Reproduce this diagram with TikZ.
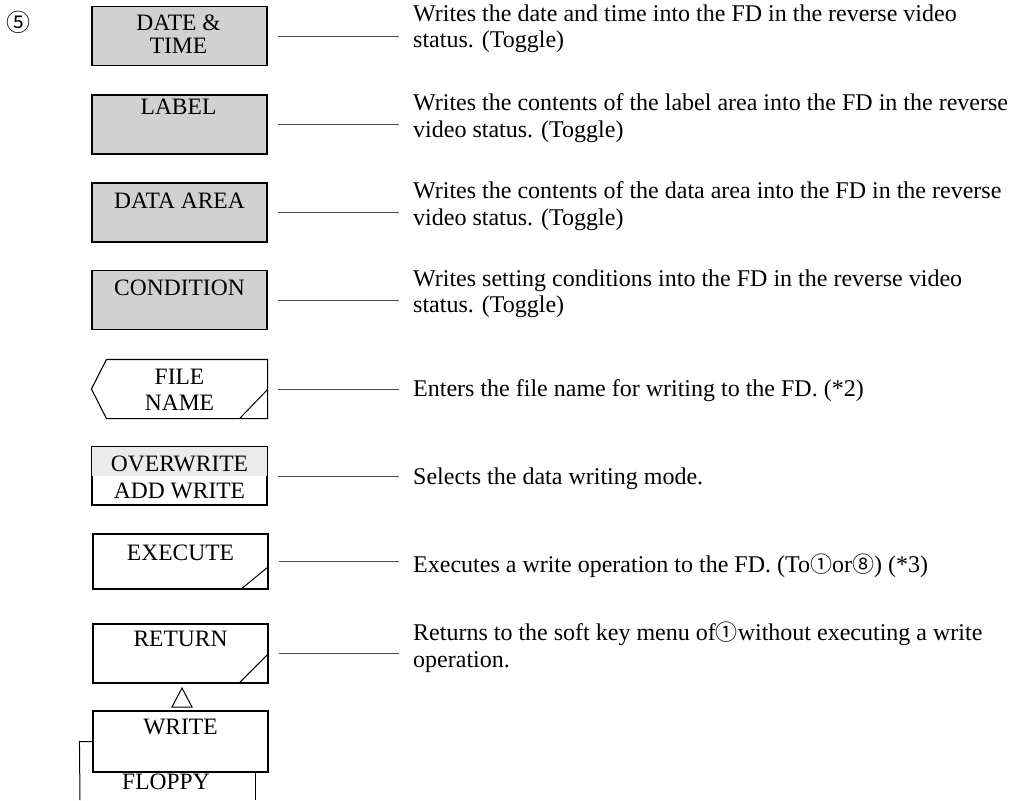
\documentclass[tikz,border=0pt]{standalone}
\usepackage{fontspec}
\setmainfont{Liberation Serif}
\newfontfamily\symf{Noto Sans CJK JP}
\newcommand{\cnum}[1]{\smash{\symf\fontsize{22}{22}\selectfont #1}}
\begin{document}
\begin{tikzpicture}[x=1pt,y=-1pt,
  box/.style={draw, line width=1.1pt, minimum width=175pt, minimum height=59pt, inner sep=0pt},
  shaded/.style={fill=black!18},
  keytxt/.style={font=\fontsize{23.5}{23.5}\selectfont, align=center, inner sep=0pt},
  desc/.style={font=\fontsize{24}{26.5}\selectfont, anchor=north west, align=left, inner sep=0pt},
  conn/.style={line width=0.7pt, black!70},
  marker/.style={line width=1pt}]
\fill[white] (0,0) rectangle (1027,800);
\useasboundingbox (0,0) rectangle (1027,800);

% section number
\node[inner sep=0pt, font=\symf\fontsize{24}{24}\selectfont] (n5) at (18,22) {⑤};

% key boxes
\node[box, shaded] (b1) at (179.5,36) {};
\node[box, shaded] (b2) at (179.5,124.5) {};
\node[box, shaded] (b3) at (179.5,212.5) {};
\node[box, shaded] (b4) at (179.5,300) {};
\node[box, minimum height=58pt] (b5) at (179.5,389) {};
\node[box, minimum height=58pt] (b6) at (179.5,476) {};
\node[box, minimum height=55pt] (b7) at (180.5,561.5) {};
\node[box] (b8) at (180.5,653.5) {};
\node[box, minimum height=61pt] (b9) at (180.5,741.5) {};

% FILE NAME shape (left side pointed)
\fill[white] (b5.north west) rectangle (b5.south east);
\draw[line width=1.1pt] ([xshift=15pt]b5.north west) -- (b5.north east) -- (b5.south east)
  -- ([xshift=15pt]b5.south west) -- (b5.west) -- cycle;

% OVERWRITE light shade
\fill[black!8] ([shift={(0.6pt,-0.6pt)}]b6.north west) rectangle ([xshift=-0.6pt]b6.east);
\draw[line width=1.1pt] (b6.north west) rectangle (b6.south east);

% corner markers
\draw[marker] ([yshift=29pt]b5.south east) -- ([xshift=-28pt]b5.south east);
\draw[marker] ([yshift=23pt]b7.south east) -- ([xshift=-28pt]b7.south east);
\draw[marker] ([yshift=30pt]b8.south east) -- ([xshift=-30pt]b8.south east);

% key texts
\node[keytxt] (k1) at (178.5,34) {DATE \&\\TIME};
\node[keytxt] (k2) at (178.5,107) {LABEL};
\node[keytxt] (k3) at (179.5,201) {DATA AREA};
\node[keytxt] (k4) at (179.5,288) {CONDITION};
\node[keytxt, font=\fontsize{23.5}{26}\selectfont] (k5) at (179.5,390) {FILE\\NAME};
\node[keytxt, font=\fontsize{23.5}{27}\selectfont] (k6) at (179.5,477) {OVERWRITE\\ADD WRITE};
\node[keytxt] (k7) at (180.5,553) {EXECUTE};
\node[keytxt] (k8) at (180.5,639) {RETURN};
\node[keytxt] (k9) at (180.5,727) {WRITE};
\node[keytxt] (k10) at (166,782) {FLOPPY};

% triangle between RETURN and WRITE
\draw[line width=1pt] (182,688) -- (172,707) -- (192,707) -- cycle;

% floppy bracket lines
\coordinate (fl) at (80,800);
\coordinate (fr) at (255,800);
\draw[line width=1pt] (b9.west) -- ++(-13,0) -- (fl);
\draw[line width=1pt] (b9.south -| fr) -- (fr);

% descriptions
\node[desc] (d1) at (413,4.5) {Writes the date and time into the FD in the reverse video\\status. (Toggle)};
\node[desc] (d2) at (413,93.5) {Writes the contents of the label area into the FD in the reverse\\video status. (Toggle)};
\node[desc] (d3) at (413,181.5) {Writes the contents of the data area into the FD in the reverse\\video status. (Toggle)};
\node[desc] (d4) at (413,269.5) {Writes setting conditions into the FD in the reverse video\\status. (Toggle)};
\node[desc] (d5) at (413,379.5) {Enters the file name for writing to the FD. (*2)};
\node[desc] (d6) at (413,467.5) {Selects the data writing mode.};
\node[desc] (d7) at (413,555.5) {Executes a write operation to the FD. (To\cnum{①}or\cnum{⑧}) (*3)};
\node[desc] (d8) at (413,623.5) {Returns to the soft key menu of\cnum{①}without executing a write\\operation.};

% connectors
\draw[conn] ([xshift=10pt]b1.east) -- ([xshift=-14pt]d1.west |- b1.east);
\draw[conn] ([xshift=10pt]b2.east) -- ([xshift=-14pt]d2.west |- b2.east);
\draw[conn] ([xshift=10pt]b3.east) -- ([xshift=-14pt]d3.west |- b3.east);
\draw[conn] ([xshift=10pt]b4.east) -- ([xshift=-14pt]d4.west |- b4.east);
\draw[conn] ([xshift=10pt]b5.east) -- ([xshift=-14pt]d5.west |- b5.east);
\draw[conn] ([xshift=10pt]b6.east) -- ([xshift=-14pt]d6.west |- b6.east);
\draw[conn] ([xshift=10pt]b7.east) -- ([xshift=-14pt]d7.west |- b7.east);
\draw[conn] ([xshift=10pt]b8.east) -- ([xshift=-14pt]d8.west |- b8.east);
\end{tikzpicture}
\end{document}
